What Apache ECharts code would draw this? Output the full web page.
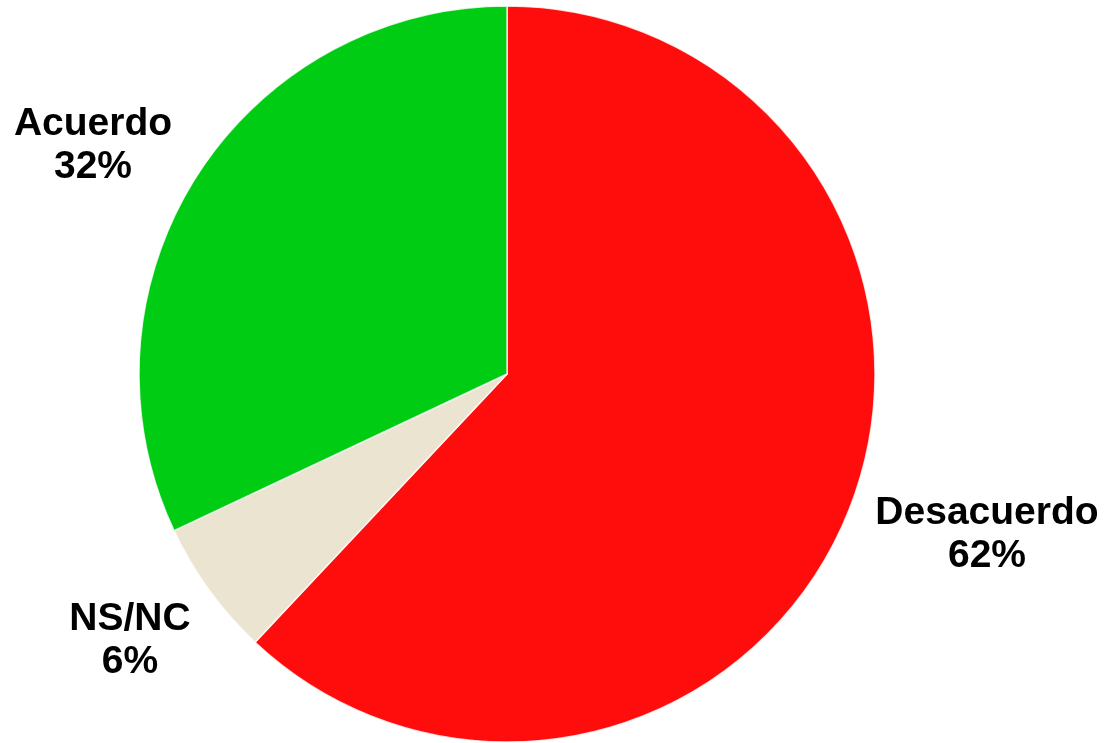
<!DOCTYPE html>
<html>
<head>
<meta charset="utf-8">
<script src="https://cdn.jsdelivr.net/npm/echarts@6/dist/echarts.min.js"></script>
<style>
html,body{margin:0;padding:0;background:#fff;}
#chart{width:1105px;height:743px;}
</style>
</head>
<body>
<div id="chart"></div>
<script>
const categories = ['Desacuerdo', 'NS/NC', 'Acuerdo'];
const values = [62, 6, 32];
const colors = ['#FF0D0D', '#EAE4D0', '#00CC14'];
const labelCenters = [[987, 535], [130, 641], [93, 146]];

const chart = echarts.init(document.getElementById('chart'));
chart.setOption({
  animation: false,
  backgroundColor: '#ffffff',
  series: [{
    type: 'pie',
    center: [507, 374],
    radius: [0, 368],
    startAngle: 90,
    clockwise: true,
    data: categories.map((c, i) => ({
      name: c, value: values[i],
      itemStyle: { color: colors[i] }
    })),
    itemStyle: { borderColor: 'rgba(255,255,255,0.8)', borderWidth: 1.5 },
    label: {
      show: true,
      position: 'outside',
      formatter: p => p.name + '\n' + p.value + '%',
      fontFamily: 'Liberation Sans, Arial, sans-serif',
      fontWeight: 'bold',
      fontSize: 39,
      lineHeight: 43,
      color: '#000',
      align: 'center',
      overflow: 'none',
      width: 400,
      edgeDistance: 0
    },
    labelLine: { show: false },
    labelLayout: function (params) {
      const c = labelCenters[params.dataIndex];
      return { x: c[0], y: c[1], align: 'center', verticalAlign: 'middle', hideOverlap: false };
    }
  }]
});
</script>
</body>
</html>
